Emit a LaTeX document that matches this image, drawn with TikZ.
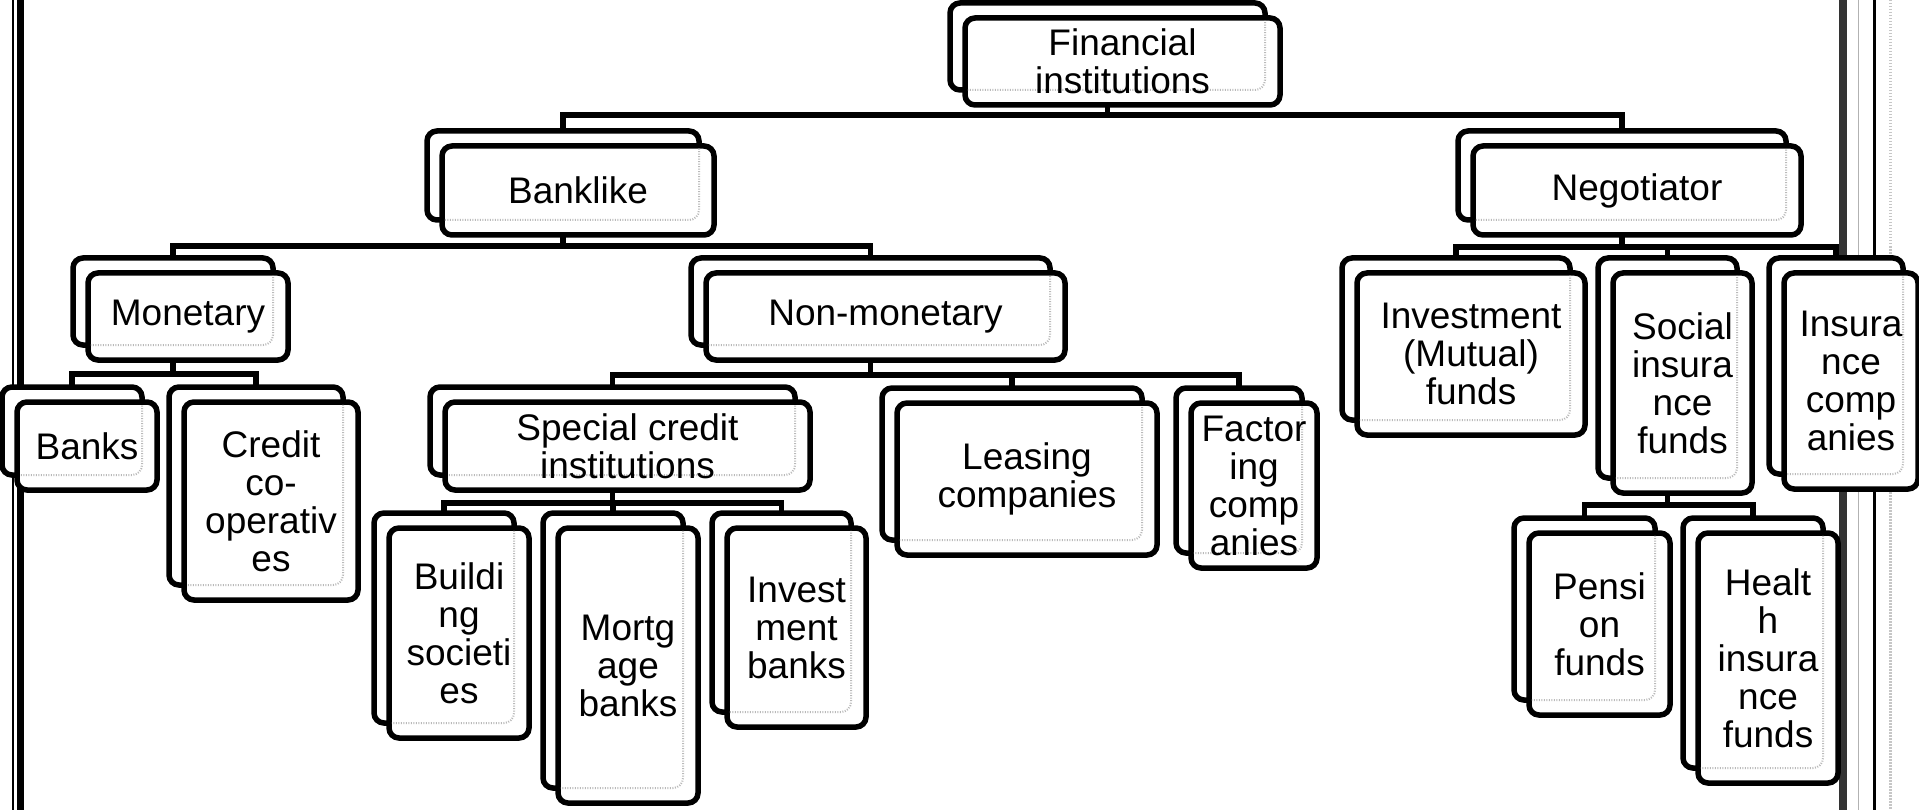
\documentclass[tikz,border=0pt]{standalone}
\usepackage{fontspec}
\setmainfont{Liberation Sans}
\usetikzlibrary{calc}
\pgfdeclarelayer{bg}
\pgfsetlayers{bg,main}

\tikzset{
  box/.style={draw=black, line width=5.5pt, rounded corners=10pt, inner sep=0pt,
              outer sep=0pt, fill=white},
  backbox/.style={box},
  frontbox/.style={box},
  ghost/.style={draw=gray!55, line width=2pt, dash pattern=on 1pt off 1.5pt,
                rounded corners=10pt},
  boxtext/.style={align=center, inner sep=0pt, font=\fontsize{37}{38}\selectfont},
  link/.style={draw=black, line width=5.5pt, line join=miter},
}

% #1 name, #2-#5 back box (left, top, right, bottom), #6 text
\newcommand\famnode[6]{%
  \node[backbox, minimum width={#4-#2}, minimum height={#5-#3}] (#1-b)
       at ({(#2+#4)/2},{(#3+#5)/2}) {};
  \node[frontbox, minimum width={#4-#2}, minimum height={#5-#3}] (#1)
       at ({(#2+#4)/2+15},{(#3+#5)/2+15}) {};
  \begin{scope}
    \clip[rounded corners=8pt] ($(#1.north west)+(2.75,2.75)$) rectangle ($(#1.south east)+(-2.75,-2.75)$);
    \draw[ghost] (#1-b.north west) rectangle (#1-b.south east);
  \end{scope}
  \node[boxtext] (#1-t) at (#1.center) {#6};
}

\begin{document}
\begin{tikzpicture}[x=1pt,y=-1pt]
\useasboundingbox (0,0) rectangle (1919,810);

% ---- boxes ----
\famnode{fin}{950}{3}{1265}{90}{Financial\\institutions}
\famnode{bank}{427}{131}{699}{220}{Banklike}
\famnode{neg}{1458}{131}{1786}{220}{Negotiator}
\famnode{mon}{73}{258}{273}{345}{Monetary}
\famnode{nonmon}{691}{258}{1050}{345}{Non-monetary}
\famnode{inv}{1342}{258}{1570}{420}{Investment\\(Mutual)\\funds}
\famnode{soc}{1598}{258}{1737}{478}{Social\\insura\\nce\\funds}
\famnode{ins}{1769}{258}{1903}{474}{Insura\\nce\\comp\\anies}
\famnode{banks}{2}{387}{142}{475}{Banks}
\famnode{credit}{169}{387}{343}{585}{Credit\\co-\\operativ\\es}
\famnode{special}{430}{387}{795}{475}{Special credit\\institutions}
\famnode{leasing}{882}{388}{1142}{540}{Leasing\\companies}
\famnode{factoring}{1176}{388}{1302}{553}{Factor\\ing\\comp\\anies}
\famnode{building}{374}{513}{514}{723}{Buildi\\ng\\societi\\es}
\famnode{mortgage}{543}{513}{683}{788}{Mortg\\age\\banks}
\famnode{invb}{712}{513}{851}{712}{Invest\\ment\\banks}
\famnode{pension}{1514}{518}{1655}{700}{Pensi\\on\\funds}
\famnode{health}{1683}{518}{1823}{768}{Healt\\h\\insura\\nce\\funds}

% bar levels of the connectors
\coordinate (lv0) at (0,115);
\coordinate (lv1) at (0,246);
\coordinate (lv2) at (0,247);
\coordinate (lv3) at (0,374);
\coordinate (lv4) at (0,375);
\coordinate (lv5) at (0,503);
\coordinate (lv6) at (0,505);

\begin{pgfonlayer}{bg}
  \fill[white] (0,0) rectangle (1919,810);
  % page border
  \draw[black, line width=2pt] (13,0) -- (13,810);
  \draw[black, line width=7pt] (20,0) -- (20,810);
  \draw[black!80, line width=8pt] (1842.5,0) -- (1842.5,810);
  \draw[gray!60, line width=1.2pt] (1858.5,0) -- (1858.5,810);
  \draw[black, line width=3.5pt] (1874.5,0) -- (1874.5,810);
  \draw[gray!45, line width=3pt, dash pattern=on 1.5pt off 1.5pt] (1890,0) -- (1890,810);

  % Financial institutions
  \draw[link] (fin-b.south) -- (fin-b.south |- lv0);
  \draw[link] (bank-b.north) |- (neg-b.north |- lv0) -- (neg-b.north);
  % Banklike
  \draw[link] (bank-b.south) -- (bank-b.south |- lv1);
  \draw[link] (mon-b.north) |- (nonmon-b.north |- lv1) -- (nonmon-b.north);
  % Negotiator
  \draw[link] (neg-b.south) -- (neg-b.south |- lv2);
  \draw[link] (inv-b.north) |- (ins-b.north |- lv2) -- (ins-b.north);
  \draw[link] (soc-b.north) -- (soc-b.north |- lv2);
  % Monetary
  \draw[link] (mon-b.south) -- (mon-b.south |- lv3);
  \draw[link] (banks-b.north) |- (credit-b.north |- lv3) -- (credit-b.north);
  % Non-monetary
  \draw[link] (nonmon-b.south) -- (nonmon-b.south |- lv4);
  \draw[link] (special-b.north) |- (factoring-b.north |- lv4) -- (factoring-b.north);
  \draw[link] (leasing-b.north) -- (leasing-b.north |- lv4);
  % Special credit institutions
  \draw[link] (special-b.south) -- (special-b.south |- lv5);
  \draw[link] (building-b.north) |- (invb-b.north |- lv5) -- (invb-b.north);
  \draw[link] (mortgage-b.north) -- (mortgage-b.north |- lv5);
  % Social insurance funds
  \draw[link] (soc-b.south) -- (soc-b.south |- lv6);
  \draw[link] (pension-b.north) |- (health-b.north |- lv6) -- (health-b.north);
\end{pgfonlayer}
\end{tikzpicture}
\end{document}
